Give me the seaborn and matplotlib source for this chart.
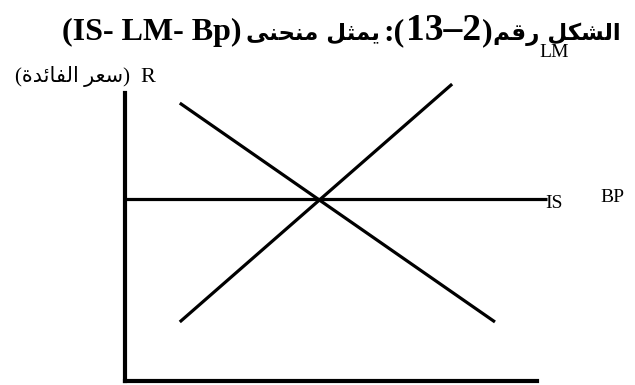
import matplotlib
matplotlib.use("Agg")
import matplotlib.pyplot as plt
import pandas as pd
import seaborn as sns

# schematic curves: (output Y, interest rate R) end points
is_x = [1.33, 8.98]
is_y = [9.65, 2.05]
lm_x = [1.33, 7.94]
lm_y = [2.05, 10.31]
bp_x = [0.0, 10.24]
bp_y = [6.32, 6.32]
curve_labels = ["IS", "BP", "LM"]

# Arabic text written in visual order with presentation forms
title_latin = "(IS- LM- Bp)"
title_ar_mid = "\uFEF0\uFEE8\uFEA4\uFEE8\uFEE3" + " " + "\uFEDE\uFE9C\uFEE4\uFEF3"
title_num = "13\u20132"
title_ar_right = "\uFEE2\uFED7\uFEAD" + " " + "\uFEDE\uFEDC\uFEB8\uFEDF\uFE8D"
ylabel_ar = "(" + "\uFE93\uFEAA\uFE8B\uFE8E\uFED4\uFEDF\uFE8D" + " " + "\uFEAE\uFECC\uFEB3" + ")"
ylabel_sym = "R"

AR_FONT = ["DejaVu Sans Condensed", "DejaVu Sans"]


def place_row(fig, pieces, x0, y, W, H):
    # lay text pieces side by side, left to right, in pixel units
    renderer = fig.canvas.get_renderer()
    x = x0
    for text, gap, kw in pieces:
        x += gap
        t = fig.text(x / W, 1 - y / H, text, ha="left", va="baseline", **kw)
        x = t.get_window_extent(renderer).x1


def main():
    sns.set_style("white")
    plt.rcParams["font.family"] = ["Liberation Serif", "DejaVu Sans"]
    plt.rcParams["text.color"] = "black"

    W, H = 635, 385
    fig = plt.figure(figsize=(W / 100, H / 100), dpi=100)
    fig.patch.set_facecolor("white")
    ax = fig.add_axes([125 / W, 4 / H, 412 / W, 288 / H])

    curves = pd.concat([
        pd.DataFrame({"Y": is_x, "R": is_y, "curve": "IS"}),
        pd.DataFrame({"Y": lm_x, "R": lm_y, "curve": "LM"}),
        pd.DataFrame({"Y": bp_x, "R": bp_y, "curve": "BP"}),
    ])
    for name, grp in curves.groupby("curve"):
        sns.lineplot(data=grp, x="Y", y="R", ax=ax, color="black",
                     linewidth=2.3, estimator=None, sort=False,
                     clip_on=False, solid_capstyle="butt")

    ax.set_xlim(0, 10)
    ax.set_ylim(0, 10)
    ax.set_xticks([])
    ax.set_yticks([])
    ax.set_xlabel("")
    ax.set_ylabel("")
    for side in ["top", "right"]:
        ax.spines[side].set_visible(False)
    for side in ["left", "bottom"]:
        ax.spines[side].set_linewidth(3)
        ax.spines[side].set_color("black")

    # curve labels
    ax.text(bp_x[1] - 0.05, bp_y[0] - 0.15, curve_labels[0], fontsize=14,
            va="center", ha="left", clip_on=False)
    ax.text(11.55, bp_y[0] + 0.05, curve_labels[1], fontsize=14,
            va="center", ha="left", clip_on=False)
    ax.text(10.05, 11.4, curve_labels[2], fontsize=14,
            va="center", ha="left", clip_on=False)

    # title, built from pieces placed left to right
    latin = dict(fontsize=23, fontweight="bold")
    arab = dict(fontsize=16.5, fontweight="bold", family=AR_FONT)
    place_row(fig, [
        (title_latin, 0, latin),
        (title_ar_mid, 5, arab),
        (":(", 3, latin),
        (title_num, 1, dict(fontsize=27, fontweight="bold")),
        (")", 1, latin),
        (title_ar_right, 1, arab),
    ], 62, 40, W, H)

    # y axis label
    fig.text(130 / W, 1 - 82 / H, ylabel_ar, fontsize=15, ha="right",
             va="baseline")
    fig.text(140 / W, 1 - 82 / H, ylabel_sym, fontsize=16, ha="left",
             va="baseline")

    fig.savefig("out.png", dpi=100, facecolor="white")
    plt.close(fig)


if __name__ == "__main__":
    main()
